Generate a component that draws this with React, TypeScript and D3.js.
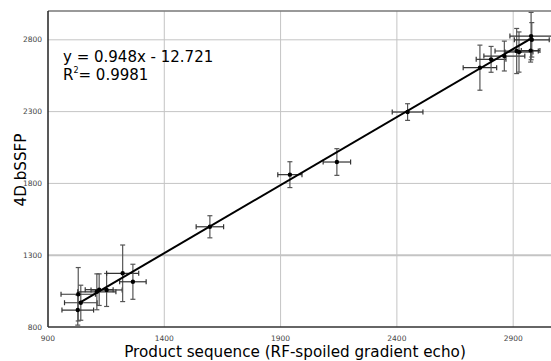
import React from 'react';
import * as d3 from 'd3';

// measured values (product sequence vs 4D bSSFP), with +/- errors
const xVals = [1030, 1041, 1028, 1110, 1120, 1152, 1221, 1265, 1596, 1940, 2142, 2446, 2757, 2805, 2862, 2915, 2925, 2977, 2980, 2975];
const yVals = [1028, 969, 918, 1045, 1060, 1058, 1174, 1115, 1498, 1861, 1949, 2297, 2606, 2664, 2687, 2722, 2715, 2826, 2800, 2725];
const xErr = [74, 70, 68, 82, 60, 67, 69, 57, 59, 52, 59, 66, 72, 64, 88, 93, 60, 91, 75, 40];
const yErr = [186, 122, 105, 125, 110, 115, 197, 122, 77, 90, 93, 58, 157, 90, 104, 157, 140, 165, 120, 80];

const xTicks = [900, 1400, 1900, 2400, 2900];
const yTicks = [800, 1300, 1800, 2300, 2800];

const slope = 0.948;
const intercept = -12.721;
const fitRange = [1035, 2980];

const W = 551, H = 361;
const font = 'DejaVu Sans, sans-serif';

export default function App() {
  const x = d3.scaleLinear().domain([900, 3100]).range([48, 559.7]);
  const y = d3.scaleLinear().domain([800, 3000]).range([327, 11.1]);

  const line = d3.line<number>()
    .x((d) => x(d))
    .y((d) => y(slope * d + intercept));

  const cap = 2.5;

  return (
    <svg width={W} height={H} style={{ position: 'absolute', left: 0, top: 0, background: '#fff' }}>
      {/* grid */}
      {xTicks.slice(1).map((t) => (
        <line key={'gx' + t} x1={x(t)} x2={x(t)} y1={y(3000)} y2={y(800)} stroke="#c4c4c4" strokeWidth={1} />
      ))}
      {yTicks.slice(1).map((t) => (
        <line key={'gy' + t} x1={x(900)} x2={W} y1={y(t)} y2={y(t)} stroke="#c4c4c4" strokeWidth={t === 1300 ? 2 : 1} />
      ))}
      {/* frame */}
      <line x1={x(900)} x2={W} y1={y(3000)} y2={y(3000)} stroke="#777" strokeWidth={1.5} />
      <line x1={x(900)} x2={x(900)} y1={y(3000)} y2={y(800)} stroke="#222" strokeWidth={1.5} />
      <line x1={x(900)} x2={W} y1={y(800)} y2={y(800)} stroke="#333" strokeWidth={1.5} />

      {/* tick labels */}
      {xTicks.map((t) => (
        <text key={'tx' + t} x={x(t)} y={340.5} fontSize={7.5} fill="#444" textAnchor="middle" fontFamily={font}>{t}</text>
      ))}
      {yTicks.map((t) => (
        <text key={'ty' + t} x={42} y={y(t) + 2.5} fontSize={7.5} fill="#444" textAnchor="end" fontFamily={font}>{t}</text>
      ))}

      {/* error bars */}
      {xVals.map((v, i) => {
        const cx = x(v), cy = y(yVals[i]);
        const x0 = x(v - xErr[i]), x1 = x(v + xErr[i]);
        const y0 = y(yVals[i] - yErr[i]), y1 = y(yVals[i] + yErr[i]);
        return (
          <g key={'e' + i}>
            <g stroke="#333" strokeWidth={1.2}>
              <line x1={x0} x2={x1} y1={cy} y2={cy} />
              <line x1={x0} x2={x0} y1={cy - cap} y2={cy + cap} />
              <line x1={x1} x2={x1} y1={cy - cap} y2={cy + cap} />
            </g>
            <g stroke="#555" strokeWidth={1.2}>
              <line x1={cx} x2={cx} y1={y0} y2={y1} />
              <line x1={cx - cap} x2={cx + cap} y1={y0} y2={y0} />
              <line x1={cx - cap} x2={cx + cap} y1={y1} y2={y1} />
            </g>
          </g>
        );
      })}

      {/* regression line */}
      <path d={line(fitRange) || ''} fill="none" stroke="#000" strokeWidth={2} />

      {/* points */}
      {xVals.map((v, i) => (
        <circle key={'p' + i} cx={x(v)} cy={y(yVals[i])} r={2.2} fill="#000" />
      ))}

      {/* equation */}
      <text x={63} y={62} fontSize={15} fontFamily={font} fill="#000">y = 0.948x - 12.721</text>
      <text x={63} y={80} fontSize={15} fontFamily={font} fill="#000">
        R<tspan fontSize={8} dy={-7}>2</tspan><tspan dy={7}>= 0.9981</tspan>
      </text>

      {/* axis titles */}
      <text x={295} y={356.5} fontSize={15.2} fontFamily={font} textAnchor="middle" fill="#000">
        Product sequence (RF-spoiled gradient echo)
      </text>
      <text transform="translate(26,170) rotate(-90)" fontSize={15.2} fontFamily={font} textAnchor="middle" fill="#000">
        4D bSSFP
      </text>
    </svg>
  );
}
